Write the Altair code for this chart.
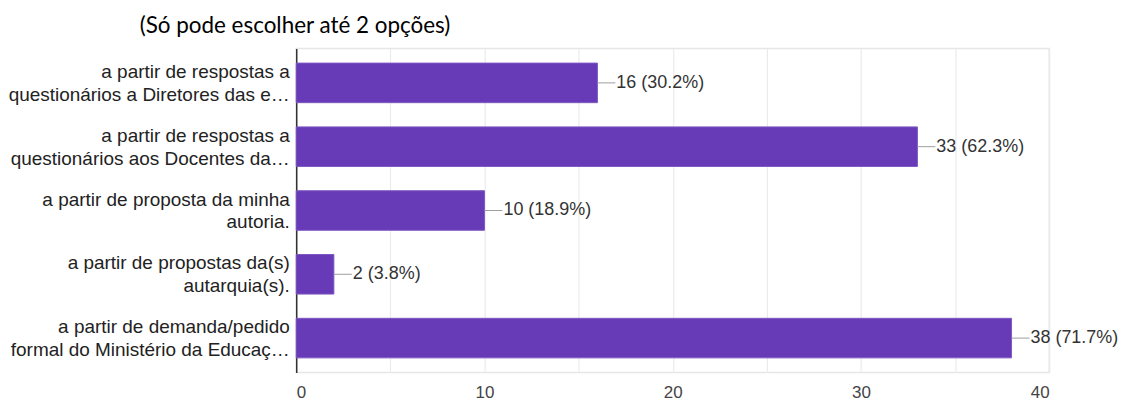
import altair as alt
import pandas as pd

categories = [
    "a partir de respostas a|questionários a Diretores das e…",
    "a partir de respostas a|questionários aos Docentes da…",
    "a partir de proposta da minha|autoria.",
    "a partir de propostas da(s)|autarquia(s).",
    "a partir de demanda/pedido|formal do Ministério da Educaç…",
]
counts = [16, 33, 10, 2, 38]
percents = ["30.2%", "62.3%", "18.9%", "3.8%", "71.7%"]
x_ticks = [0, 5, 10, 15, 20, 25, 30, 35, 40]

df = pd.DataFrame({
    "cat": categories,
    "count": counts,
    "label": [f"{c} ({p})" for c, p in zip(counts, percents)],
})

y_enc = alt.Y(
    "cat:N", sort=None, title=None,
    scale=alt.Scale(paddingInner=0.38, paddingOuter=0.23),
    axis=alt.Axis(
        labelExpr="split(datum.label, '|')",
        labelFont="Liberation Sans", labelFontSize=19, labelColor="#222222",
        labelLineHeight=23, labelPadding=7, labelLimit=400, labelOffset=-11,
        ticks=False, domain=True, domainColor="#333333", domainWidth=1.5,
        grid=False,
    ),
)
x_enc = alt.X(
    "count:Q", title=None,
    scale=alt.Scale(domain=[0, 40], nice=False),
    axis=alt.Axis(
        values=x_ticks,
        labelExpr="datum.value % 10 == 0 ? datum.label : ''",
        labelFont="Liberation Sans", labelFontSize=17, labelColor="#444444",
        labelPadding=12, ticks=False, domain=False,
        grid=True, gridColor="#ebebeb", gridWidth=1.2,
    ),
)

bars = alt.Chart(df).mark_bar(color="#673ab7", stroke="#7e57c2", strokeWidth=1).encode(
    x=x_enc, y=y_enc
)
connectors = alt.Chart(df).mark_rule(color="#9e9e9e", strokeWidth=1, x2Offset=18).encode(
    x="count:Q", x2="count:Q", y=alt.Y("cat:N", sort=None, bandPosition=0.5)
)
texts = alt.Chart(df).mark_text(
    align="left", baseline="middle", dx=19, font="Liberation Sans",
    fontSize=18, color="#333333"
).encode(
    x="count:Q", y=alt.Y("cat:N", sort=None), text="label:N"
)

chart = alt.layer(bars, connectors, texts).properties(
    width=755, height=325,
    autosize=alt.AutoSizeParams(type="none"),
    padding={"left": 289, "top": 40, "right": 70, "bottom": 30},
    title=alt.TitleParams(
        "(Só pode escolher até 2 opções)", anchor="start", frame="group",
        dx=-157, offset=11, font="Lato", fontSize=22.5, fontWeight="normal",
        color="#000000",
    ),
).configure_view(stroke="#e6e6e6", strokeWidth=1.5)

chart.save("out.html", embed_options={"renderer": "svg", "actions": False})
